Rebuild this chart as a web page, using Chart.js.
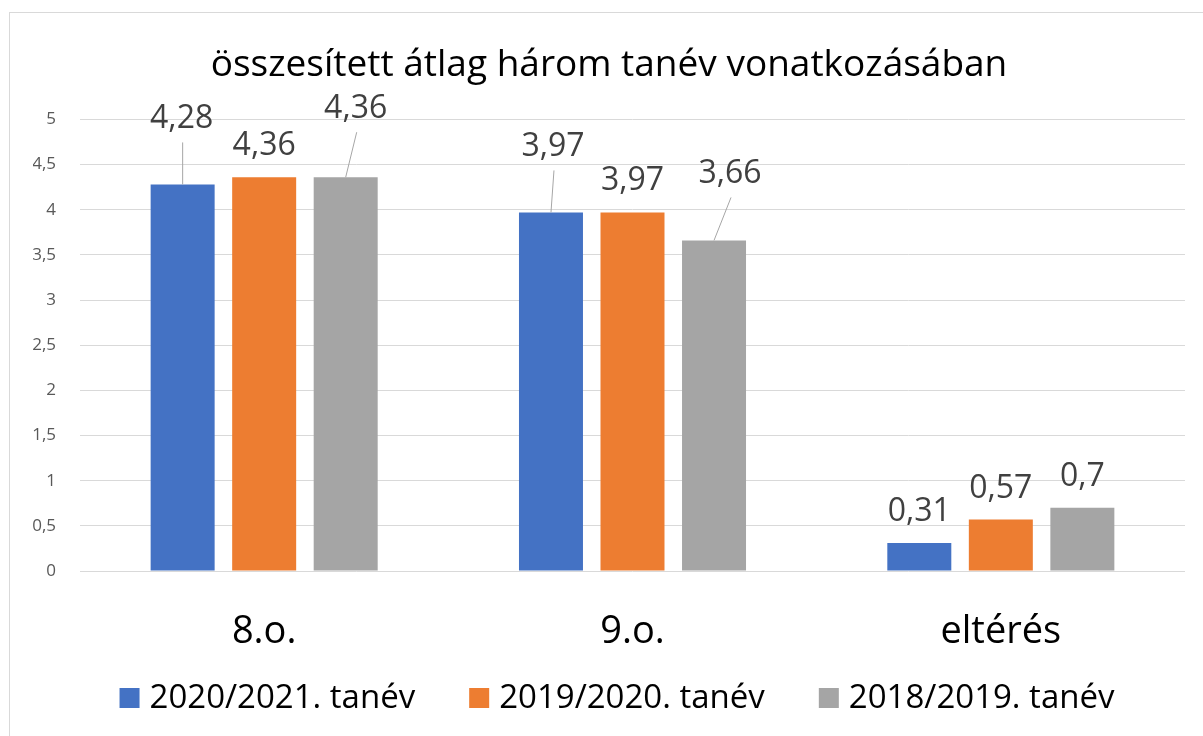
<!DOCTYPE html>
<html lang="hu">
<head>
    <meta charset="UTF-8">
    <title>összesített átlag három tanév vonatkozásában</title>
    <script src="https://cdn.jsdelivr.net/npm/chart.js"></script>
    <style>
        html, body { margin: 0; padding: 0; background: #fff; overflow: hidden; }
        #wrap { position: relative; width: 1203px; height: 736px; }
    </style>
</head>
<body>
    <div id="wrap"><canvas id="avgChart" width="1203" height="736"></canvas></div>

    <script>
        // chart data
        const categories = ['8.o.', '9.o.', 'eltérés'];
        const seriesNames = ['2020/2021. tanév', '2019/2020. tanév', '2018/2019. tanév'];
        const values2020 = [4.28, 3.97, 0.31];
        const values2019 = [4.36, 3.97, 0.57];
        const values2018 = [4.36, 3.66, 0.7];
        const yTicks = [0, 0.5, 1, 1.5, 2, 2.5, 3, 3.5, 4, 4.5, 5];

        const colors = ['#4472C4', '#ED7D31', '#A5A5A5'];
        const FONT = "'Open Sans', 'Noto Sans', sans-serif";

        // hand moved data labels (px offsets from the default spot), keyed "dataset-index"
        const movedLabels = {
            '0-0': [-1, -34],
            '2-0': [10, -37],
            '0-1': [2, -34],
            '2-1': [16, -35]
        };

        const fmt = v => String(v).replace('.', ',');

        // outer frame of the chart
        const framePlugin = {
            id: 'frame',
            beforeDraw(chart) {
                const ctx = chart.ctx;
                ctx.save();
                ctx.strokeStyle = '#d9d9d9';
                ctx.lineWidth = 1;
                ctx.strokeRect(9.5, 12.5, 1300, 800);
                ctx.restore();
            }
        };

        // value labels above the bars, with leader lines for the moved ones
        const valueLabels = {
            id: 'valueLabels',
            afterDatasetsDraw(chart) {
                const ctx = chart.ctx;
                ctx.save();
                ctx.font = `32px ${FONT}`;
                ctx.textAlign = 'center';
                ctx.textBaseline = 'alphabetic';
                chart.data.datasets.forEach((ds, di) => {
                    chart.getDatasetMeta(di).data.forEach((bar, i) => {
                        const off = movedLabels[di + '-' + i] || [0, 0];
                        const lx = bar.x + off[0];
                        const ly = bar.y - 22 + off[1];
                        if (off[0] !== 0 || off[1] !== 0) {
                            ctx.strokeStyle = '#a6a6a6';
                            ctx.lineWidth = 1;
                            ctx.beginPath();
                            ctx.moveTo(lx + 1, ly + 14);
                            ctx.lineTo(bar.x, bar.y);
                            ctx.stroke();
                        }
                        ctx.fillStyle = '#404040';
                        ctx.fillText(fmt(ds.data[i]), lx, ly);
                    });
                });
                ctx.restore();
            }
        };

        // legend row under the axis labels (built-in legend can't space it like the original)
        const bottomLegend = {
            id: 'bottomLegend',
            afterDraw(chart) {
                const ctx = chart.ctx;
                const box = 20, gapText = 10, gapItem = 54, cy = 698;
                ctx.save();
                ctx.font = `33px ${FONT}`;
                ctx.textBaseline = 'middle';
                ctx.textAlign = 'left';
                const items = chart.data.datasets.map(ds => ({
                    text: ds.label, color: ds.backgroundColor, w: ctx.measureText(ds.label).width
                }));
                const total = items.reduce((s, it) => s + box + gapText + it.w, 0) + gapItem * (items.length - 1);
                let x = 617 - total / 2;
                items.forEach(it => {
                    ctx.fillStyle = it.color;
                    ctx.fillRect(x, cy - box / 2, box, box);
                    ctx.fillStyle = '#000';
                    ctx.fillText(it.text, x + box + gapText, cy + 1);
                    x += box + gapText + it.w + gapItem;
                });
                ctx.restore();
            }
        };

        const makeSet = (label, data, color) => ({
            label: label,
            data: data,
            backgroundColor: color,
            borderColor: color,
            borderWidth: 0,
            categoryPercentage: 0.664,
            barPercentage: 0.785
        });

        const ctx = document.getElementById('avgChart').getContext('2d');
        const avgChart = new Chart(ctx, {
            type: 'bar',
            data: {
                labels: categories,
                datasets: [
                    makeSet(seriesNames[0], values2020, colors[0]),
                    makeSet(seriesNames[1], values2019, colors[1]),
                    makeSet(seriesNames[2], values2018, colors[2])
                ]
            },
            options: {
                responsive: false,
                animation: false,
                layout: { padding: { left: 33, right: 18, top: 0, bottom: 81 } },
                scales: {
                    x: {
                        grid: { display: false, drawTicks: false },
                        border: { display: false },
                        ticks: {
                            padding: 38,
                            color: '#000',
                            font: { family: FONT, size: 38 }
                        },
                        afterFit(scale) { scale.height = 84; }
                    },
                    y: {
                        min: 0,
                        max: 5,
                        afterBuildTicks(scale) {
                            scale.ticks = yTicks.map(v => ({ value: v }));
                        },
                        grid: { color: '#d9d9d9', lineWidth: 1, drawTicks: false },
                        border: { display: false },
                        ticks: {
                            padding: 24,
                            color: '#595959',
                            font: { family: FONT, size: 17 },
                            callback: v => fmt(v)
                        },
                        afterFit(scale) { scale.width = 47; }
                    }
                },
                plugins: {
                    title: {
                        display: true,
                        text: 'összesített átlag három tanév vonatkozásában',
                        color: '#000',
                        font: { family: FONT, size: 37, weight: 'normal' },
                        padding: { top: 43, bottom: 32 }
                    },
                    legend: { display: false },
                    tooltip: { enabled: false }
                }
            },
            plugins: [framePlugin, valueLabels, bottomLegend]
        });
    </script>
</body>
</html>
